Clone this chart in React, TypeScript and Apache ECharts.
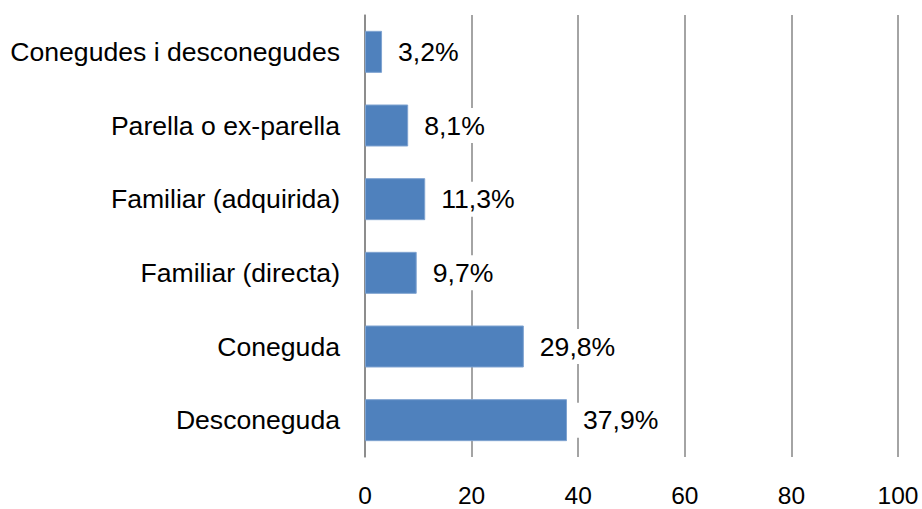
import React, { useEffect, useRef } from "react";
import * as echarts from "echarts";

const categories = [
  "Desconeguda",
  "Coneguda",
  "Familiar (directa)",
  "Familiar (adquirida)",
  "Parella o ex-parella",
  "Conegudes i desconegudes",
];
const values = [37.9, 29.8, 9.7, 11.3, 8.1, 3.2];
const xTicks = [0, 20, 40, 60, 80, 100];

export default function App() {
  const ref = useRef<HTMLDivElement>(null);
  useEffect(() => {
    if (!ref.current) return;
    const chart = echarts.init(ref.current, null, { renderer: "svg" });
    const font = "'Liberation Sans', Arial, sans-serif";
    chart.setOption({
      animation: false,
      backgroundColor: "#ffffff",
      grid: { left: 365, right: 24, top: 15, bottom: 52, containLabel: false },
      xAxis: {
        type: "value",
        min: xTicks[0],
        max: xTicks[xTicks.length - 1],
        interval: 20,
        axisLine: { show: false },
        axisTick: { show: false },
        splitLine: { show: true, lineStyle: { color: "#868686", width: 1.5 } },
        axisLabel: {
          margin: 28,
          fontSize: 24.5,
          lineHeight: 20,
          color: "#000000",
          fontFamily: font,
        },
      },
      yAxis: {
        type: "category",
        data: categories,
        axisLine: { show: true, lineStyle: { color: "#868686", width: 1.5 } },
        axisTick: { show: false },
        axisLabel: {
          margin: 25,
          fontSize: 26.6,
          color: "#000000",
          fontFamily: font,
        },
      },
      series: [
        {
          type: "bar",
          data: values,
          barCategoryGap: "43%",
          itemStyle: { color: "#4F81BD", borderColor: "#7FA3D0", borderWidth: 1 },
          label: {
            show: true,
            position: "right",
            distance: 10,
            fontSize: 26.6,
            color: "#000000",
            fontFamily: font,
            backgroundColor: "#ffffff",
            padding: [4, 6],
            formatter: (p: any) => String(p.value.toFixed(1)).replace(".", ",") + "%",
          },
        },
      ],
    });
    return () => chart.dispose();
  }, []);
  return (
    <div
      ref={ref}
      style={{ position: "fixed", left: 0, top: 0, width: 922, height: 509 }}
    />
  );
}
